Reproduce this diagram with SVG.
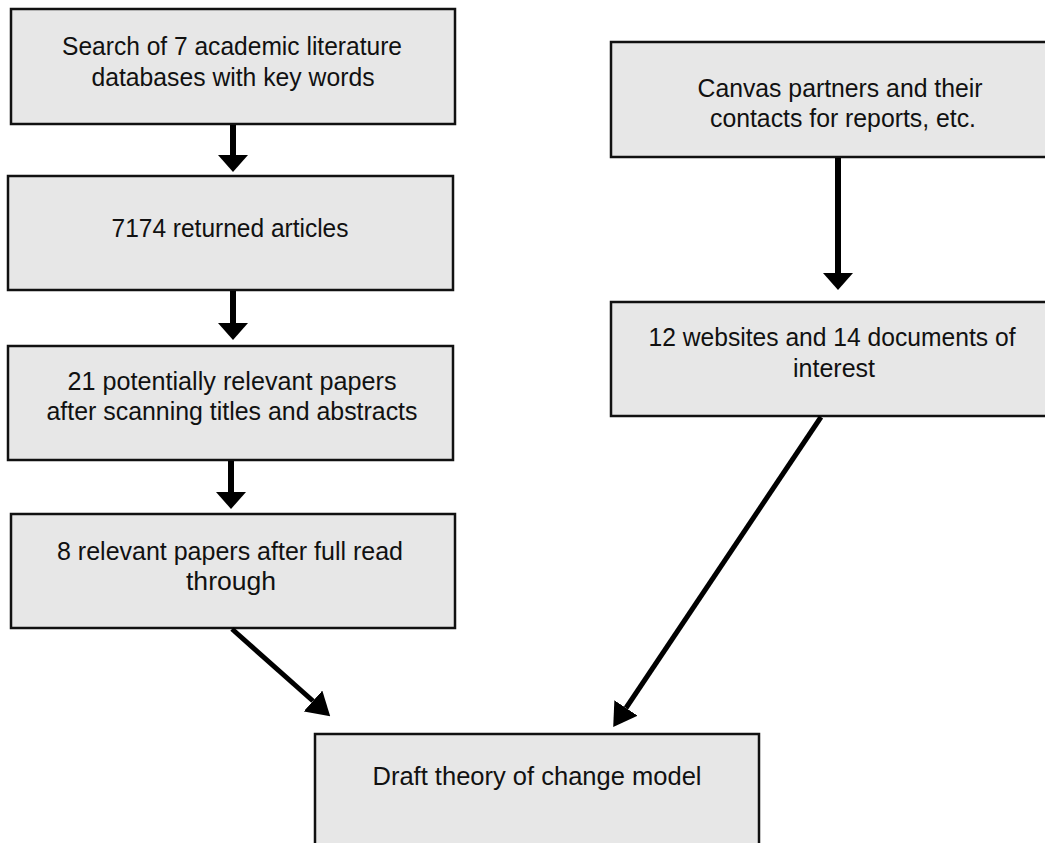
<svg xmlns="http://www.w3.org/2000/svg" width="1045" height="843" viewBox="0 0 1045 843">
<style>
.box{fill:#e7e7e7;stroke:#111;stroke-width:2.5}
.t{font-family:"Liberation Sans",Arial,sans-serif;font-size:25px;fill:#111;text-anchor:middle}
.v{stroke:#000;stroke-width:6;fill:none}
.d{stroke:#000;stroke-width:5;fill:none}
</style>
<defs>
<marker id="hv" markerUnits="userSpaceOnUse" markerWidth="17" markerHeight="30" refX="0" refY="15" orient="auto"><path d="M0,0 L17,15 L0,30 z" fill="#000"/></marker>
<marker id="hd" markerUnits="userSpaceOnUse" markerWidth="23" markerHeight="28" refX="0" refY="14" orient="auto"><path d="M0,0 L23,14 L0,28 z" fill="#000"/></marker>
</defs>
<rect width="1045" height="843" fill="#fff"/>
<g id="n1"><rect class="box" x="11" y="9" width="444" height="115"/>
<text class="t" x="232" y="55" textLength="340" lengthAdjust="spacingAndGlyphs">Search of 7 academic literature</text>
<text class="t" x="233" y="86" textLength="283" lengthAdjust="spacingAndGlyphs">databases with key words</text></g>
<g id="n2"><rect class="box" x="8" y="176" width="445" height="114"/>
<text class="t" x="230" y="237" textLength="237" lengthAdjust="spacingAndGlyphs">7174 returned articles</text></g>
<g id="n3"><rect class="box" x="8" y="346" width="445" height="114"/>
<text class="t" x="232" y="390" textLength="329" lengthAdjust="spacingAndGlyphs">21 potentially relevant papers</text>
<text class="t" x="232" y="420" textLength="371" lengthAdjust="spacingAndGlyphs">after scanning titles and abstracts</text></g>
<g id="n4"><rect class="box" x="11" y="514" width="444" height="114"/>
<text class="t" x="230" y="560" textLength="346" lengthAdjust="spacingAndGlyphs">8 relevant papers after full read</text>
<text class="t" x="231" y="590" textLength="90" lengthAdjust="spacingAndGlyphs">through</text></g>
<g id="n5"><rect class="box" x="611" y="42" width="444" height="115"/>
<text class="t" x="840" y="97" textLength="285" lengthAdjust="spacingAndGlyphs">Canvas partners and their</text>
<text class="t" x="843" y="127" textLength="266" lengthAdjust="spacingAndGlyphs">contacts for reports, etc.</text></g>
<g id="n6"><rect class="box" x="611" y="302" width="444" height="114"/>
<text class="t" x="832" y="346" textLength="367" lengthAdjust="spacingAndGlyphs">12 websites and 14 documents of</text>
<text class="t" x="834" y="377" textLength="82" lengthAdjust="spacingAndGlyphs">interest</text></g>
<g id="n7"><rect class="box" x="315" y="734" width="444" height="130"/>
<text class="t" x="537" y="785" textLength="329" lengthAdjust="spacingAndGlyphs">Draft theory of change model</text></g>
<g id="connectors">
<line class="v" x1="233" y1="125" x2="233" y2="155" marker-end="url(#hv)"/>
<line class="v" x1="233" y1="291" x2="233" y2="323" marker-end="url(#hv)"/>
<line class="v" x1="231" y1="461" x2="231" y2="492" marker-end="url(#hv)"/>
<line class="v" x1="838" y1="158" x2="838" y2="273" marker-end="url(#hv)"/>
<line class="d" x1="232" y1="629" x2="313" y2="701" marker-end="url(#hd)"/>
<line class="d" x1="821" y1="417" x2="626" y2="708" marker-end="url(#hd)"/>
</g>
</svg>
